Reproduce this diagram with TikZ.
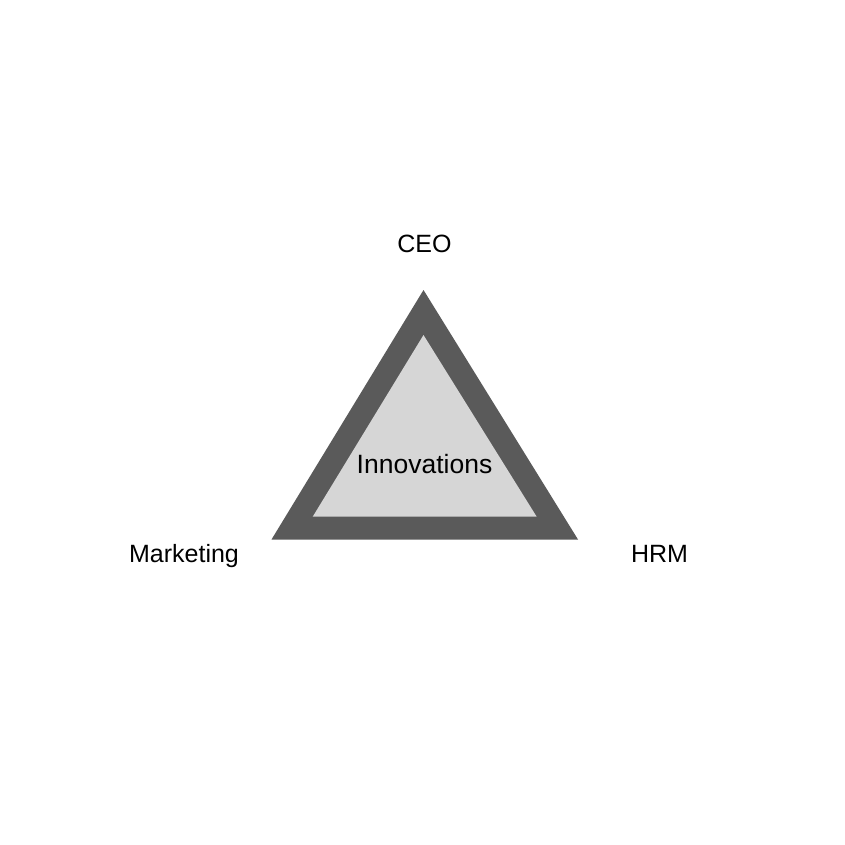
\documentclass[tikz,border=0pt]{standalone}
\usepackage{fontspec}
\setmainfont{Liberation Sans}
\begin{document}
\begin{tikzpicture}[x=1pt,y=-1pt,
  lbl/.style={font=\fontsize{25}{30}\selectfont, text=black, inner sep=0pt}]
\useasboundingbox[fill=white] (0,0) rectangle (845,844);
\definecolor{outerg}{HTML}{5A5A5A}
\definecolor{innerg}{HTML}{D6D6D6}
\coordinate (oa) at (423.5,290);
\coordinate (ol) at (271.5,539.5);
\coordinate (or) at (578,539.5);
\coordinate (ia) at (423.5,335);
\coordinate (il) at (312.7,516.7);
\coordinate (ir) at (536.7,516.7);
\fill[outerg] (oa) -- (ol) -- (or) -- cycle;
\fill[innerg] (ia) -- (il) -- (ir) -- cycle;
\node[lbl, font=\fontsize{26.5}{32}\selectfont] (inn) at (424.5,464) {Innovations};
\node[lbl] (ceo) at (424.5,244) {CEO};
\node[lbl] (mkt) at (184,556) {Marketing};
\node[lbl] (hrm) at (659.5,554) {HRM};
\end{tikzpicture}
\end{document}
